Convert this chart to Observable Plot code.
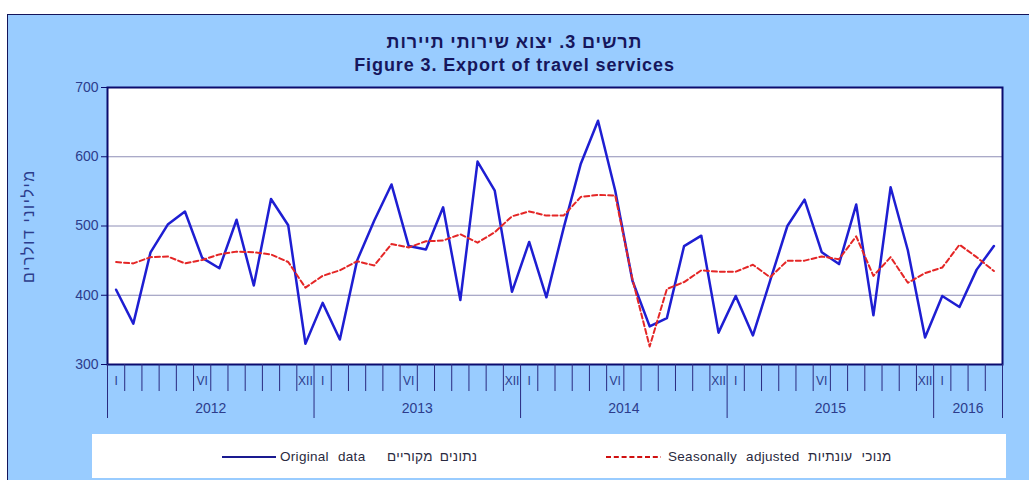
<!DOCTYPE html>
<html>
<head>
<meta charset="utf-8">
<script src="https://cdn.jsdelivr.net/npm/d3@7"></script>
<script src="https://cdn.jsdelivr.net/npm/@observablehq/plot@0.6"></script>
<style>
  html, body { margin: 0; padding: 0; background: #ffffff; }
  #wrap { position: relative; width: 1029px; height: 480px; overflow: hidden; font-family: "Liberation Sans", Arial, sans-serif; }
  #panel { position: absolute; left: 7px; top: 14px; right: 0; bottom: 0; background: #99ccff; border-top: 1px solid #14145a; border-left: 1px solid #14145a; }
  .title { position: absolute; left: 0; width: 1029px; text-align: center; font-weight: bold; font-size: 18px; letter-spacing: 0.9px; color: #16165c; white-space: nowrap; }
  #chart { position: absolute; left: 0; top: 0; }
  #legend { position: absolute; left: 92px; top: 434px; width: 914px; height: 44px; background: #ffffff; }
  .lt { position: absolute; top: 15px; font-size: 13.5px; letter-spacing: 0.3px; color: #2a2a40; white-space: nowrap; }
</style>
</head>
<body>
<div id="wrap">
  <div id="panel"></div>
  <div class="title" id="t1" dir="rtl" style="top:32px;"></div>
  <div class="title" id="t2" style="top:55px;"></div>
  <div id="chart"></div>
  <div id="legend"></div>
</div>
<script>
// ---- data ----
const years = [2012, 2013, 2014, 2015, 2016];
const monthsPerYear = [12, 12, 12, 12, 4];
const monthNames = ["I","II","III","IV","V","VI","VII","VIII","IX","X","XI","XII"];
const labelledMonths = ["I","VI","XII"];
const original = [408,359,462,502,521,454,439,509,414,539,501,330,
                  389,336,450,508,560,471,466,527,393,593,551,405,
                  477,397,497,590,652,551,421,355,367,471,486,346,
                  399,342,421,500,538,462,445,531,371,556,465,339,
                  399,383,437,471];
const adjusted = [448,446,455,456,446,451,459,463,462,459,448,411,
                  428,436,449,443,474,469,478,479,488,476,491,514,
                  521,515,515,542,545,544,423,326,409,419,436,434,
                  434,444,426,450,450,456,452,485,428,455,418,432,
                  440,473,455,435];
const yTicks = [300, 400, 500, 600, 700];
const gridTicks = [400, 500, 600];
const titleHe = "תרשים 3. יצוא שירותי תיירות";
const titleEn = "Figure 3. Export of travel services";
const yLabel = "מיליוני דולרים";
const legendOriginalEn = "Original data";
const legendOriginalHe = "נתונים מקוריים";
const legendAdjustedEn = "Seasonally adjusted";
const legendAdjustedHe = "מנוכי עונתיות";

// ---- tables built from the arrays ----
const rows = [];
const yearSpans = [];
let idx = 0;
years.forEach((yr, k) => {
  const start = idx;
  for (let m = 0; m < monthsPerYear[k]; m++) {
    rows.push({i: idx, year: yr, month: monthNames[m], original: original[idx], adjusted: adjusted[idx]});
    idx++;
  }
  yearSpans.push({year: yr, start: start - 0.5, end: idx - 0.5, center: start - 0.5 + monthsPerYear[k] / 2});
});
const yearBounds = [yearSpans[0].start, ...yearSpans.map(d => d.end)];
const monthBounds = rows.map(d => d.i - 0.5).filter(b => !yearBounds.includes(b));
const labelRows = rows.filter(d => labelledMonths.includes(d.month));

document.getElementById("t1").textContent = titleHe;
document.getElementById("t2").textContent = titleEn;

const navy = "#0b0b6e";
const tickText = "#2c3c8c";

const chart = Plot.plot({
  width: 1029,
  height: 425,
  marginLeft: 107,
  marginRight: 27,
  marginTop: 87,
  marginBottom: 61,
  style: {background: "transparent", overflow: "visible", fontFamily: "'Liberation Sans', Arial, sans-serif"},
  x: {type: "linear", domain: [-0.5, rows.length - 0.5], axis: null},
  y: {domain: [300, 700], axis: null},
  marks: [
    Plot.frame({fill: "white", stroke: null}),
    Plot.gridY(gridTicks, {stroke: "#8e8eb6", strokeOpacity: 1, strokeWidth: 1}),
    Plot.line(rows, {x: "i", y: "original", stroke: "#1e1ed2", strokeWidth: 2.5}),
    Plot.line(rows, {x: "i", y: "adjusted", stroke: "#e42626", strokeWidth: 2, strokeDasharray: "5,3"}),
    Plot.frame({stroke: navy, strokeWidth: 2}),
    Plot.axisY(yTicks, {tickSize: 6, tickPadding: 3, fontSize: 14, fill: tickText, stroke: navy, label: null}),
    Plot.axisX(monthBounds, {tickSize: 27, tickFormat: () => "", stroke: "#2a2a80", label: null}),
    Plot.axisX(yearBounds, {tickSize: 54, tickFormat: () => "", stroke: "#2a2a80", label: null}),
    Plot.axisX(labelRows.map(d => d.i), {tickSize: 0, tickPadding: 12, fontSize: 12, tickFormat: i => rows[i].month, fill: tickText, label: null}),
    Plot.axisX(yearSpans.map(d => d.center), {tickSize: 0, tickPadding: 39, fontSize: 14, tickFormat: c => String(yearSpans.find(d => d.center === c).year), fill: tickText, label: null}),
    Plot.text([yLabel], {frameAnchor: "left", dx: -79, rotate: -90, fontSize: 16, textAnchor: "middle", fill: tickText, text: d => d, className: "ylab"})
  ]
});
d3.select(chart).selectAll(".ylab text").attr("letter-spacing", "1.6px").attr("text-anchor", "middle");
document.getElementById("chart").appendChild(chart);

// ---- legend ----
const legend = document.getElementById("legend");
legend.innerHTML = `
  <svg style="position:absolute;left:0;top:0" width="914" height="44">
    <line x1="130" x2="184" y1="23" y2="23" stroke="#1a1a90" stroke-width="2"/>
    <line x1="514" x2="569" y1="23" y2="23" stroke="#d01010" stroke-width="2" stroke-dasharray="5,2.8"/>
  </svg>
  <div class="lt" style="left:188px;word-spacing:5px">${legendOriginalEn}</div>
  <div class="lt" dir="rtl" style="left:295px;word-spacing:3px">${legendOriginalHe}</div>
  <div class="lt" style="left:576px;word-spacing:5px">${legendAdjustedEn}</div>
  <div class="lt" dir="rtl" style="left:716px;word-spacing:5px">${legendAdjustedHe}</div>
`;
</script>
</body>
</html>
